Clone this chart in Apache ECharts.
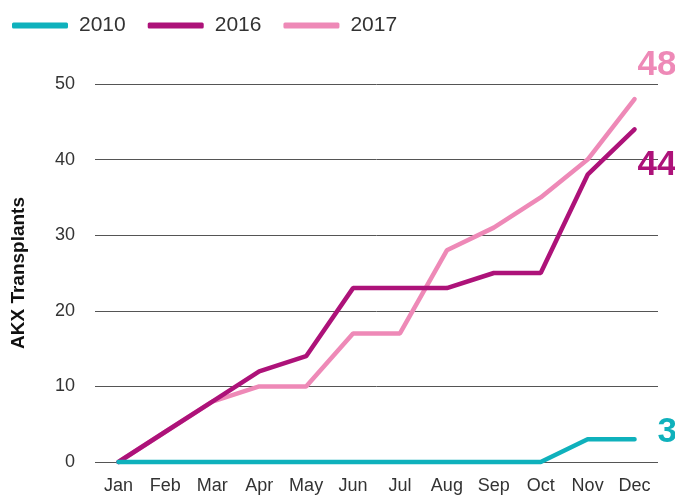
<!DOCTYPE html>
<html>
<head>
<meta charset="utf-8">
<script src="https://cdn.jsdelivr.net/npm/echarts@6/dist/echarts.min.js"></script>
<style>html,body{margin:0;padding:0;background:#fff}#c{width:675px;height:495px}</style>
</head>
<body>
<div id="c"></div>
<script>
const months = ['Jan','Feb','Mar','Apr','May','Jun','Jul','Aug','Sep','Oct','Nov','Dec'];
const s2010 = [0,0,0,0,0,0,0,0,0,0,3,3];
const s2016 = [0,4,8,12,14,23,23,23,25,25,38,44];
const s2017 = [0,4,8,10,10,17,17,28,31,35,40,48];
const yTicks = [0,10,20,30,40,50];

const C2010 = '#0fb1bc', C2016 = '#ad1279', C2017 = '#ee89b7';
const FONT = 'Liberation Sans';

function endLabel(color, offset) {
  return {
    show: true, distance: 3, offset: offset,
    formatter: p => String(p.value), color: color,
    fontFamily: 'Liberation Sans', fontWeight: 'bold', fontSize: 35
  };
}

const chart = echarts.init(document.getElementById('c'), null, {renderer: 'canvas'});
chart.setOption({
  animation: false,
  backgroundColor: '#fff',
  legend: {
    data: ['2010','2016','2017'],
    left: 7, top: 10,
    icon: 'roundRect',
    itemWidth: 56, itemHeight: 6,
    itemGap: 22,
    textStyle: {fontFamily: FONT, fontSize: 21, color: '#333', padding: [0,0,0,6]}
  },
  grid: {left: 95, right: 17, top: 84, bottom: 33, containLabel: false, outerBoundsMode: 'none'},
  xAxis: {
    type: 'category', data: months, boundaryGap: true,
    axisLine: {show: false}, axisTick: {show: false},
    axisLabel: {fontFamily: FONT, fontSize: 18, color: '#333', margin: 15}
  },
  yAxis: {
    type: 'value', min: yTicks[0], max: yTicks[yTicks.length-1], interval: 10,
    name: 'AKX Transplants', nameLocation: 'middle', nameRotate: 90, nameGap: 67,
    nameTextStyle: {fontFamily: FONT, fontSize: 19, fontWeight: 'bold', color: '#111'},
    axisLine: {show: false}, axisTick: {show: false},
    axisLabel: {fontFamily: FONT, fontSize: 18, color: '#333', margin: 20},
    splitLine: {lineStyle: {color: '#555', width: 1}}
  },
  series: [
    {name: '2017', type: 'line', data: s2017, color: C2017, clip: false,
     endLabel: endLabel(C2017, [0, -34]),
     symbol: 'none', lineStyle: {width: 4.5, color: C2017, cap: 'round'}, z: 2},
    {name: '2016', type: 'line', data: s2016, color: C2016, clip: false,
     endLabel: endLabel(C2016, [0, 36]),
     symbol: 'none', lineStyle: {width: 4.5, color: C2016, cap: 'round'}, z: 3},
    {name: '2010', type: 'line', data: s2010, color: C2010, clip: false,
     endLabel: endLabel(C2010, [20, -7]),
     symbol: 'none', lineStyle: {width: 4.5, color: C2010, cap: 'round'}, z: 4}
  ]
});
</script>
</body>
</html>
